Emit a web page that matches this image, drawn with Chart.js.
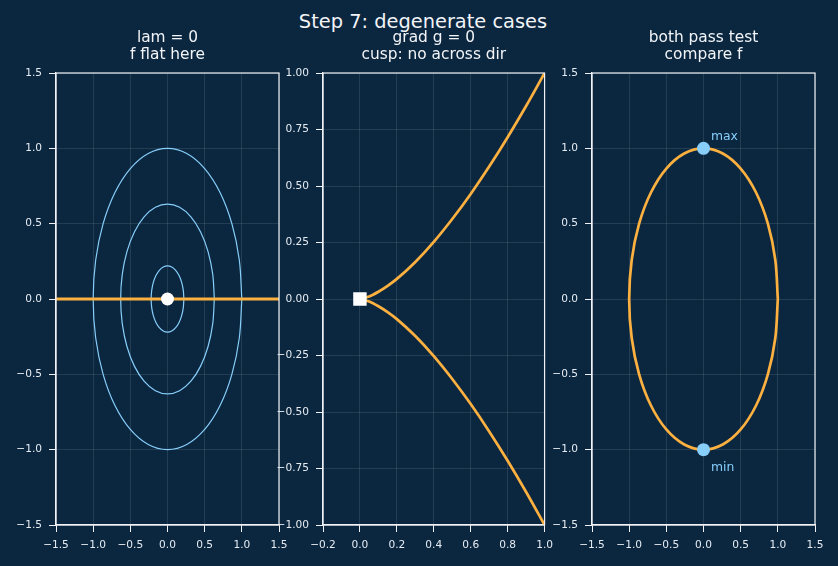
<!DOCTYPE html>
<html>
<head>
<meta charset="utf-8">
<script src="https://cdn.jsdelivr.net/npm/chart.js@4.4.1/dist/chart.umd.min.js"></script>
<style>
  html, body { margin: 0; padding: 0; background: #0b2740; width: 838px; height: 566px; overflow: hidden; }
  #title { position: absolute; left: 4px; top: 10px; width: 838px; text-align: center;
           font: 19.4px 'DejaVu Sans', sans-serif; line-height: 24px; color: #f2f4f7; }
  canvas { position: absolute; top: 0; }
</style>
</head>
<body>
<div id="title">Step 7: degenerate cases</div>
<canvas id="c1" width="300" height="566" style="left:0"></canvas>
<canvas id="c2" width="290" height="566" style="left:270px"></canvas>
<canvas id="c3" width="298" height="566" style="left:540px"></canvas>
<script>
// ── Data ──
// unit circle outline (15° steps), reused for the level curves and the constraint in panel 3
const unitCircleX = [1, 0.966, 0.866, 0.707, 0.5, 0.259, 0, -0.259, -0.5, -0.707, -0.866, -0.966, -1,
                     -0.966, -0.866, -0.707, -0.5, -0.259, 0, 0.259, 0.5, 0.707, 0.866, 0.966, 1];
const unitCircleY = [0, 0.259, 0.5, 0.707, 0.866, 0.966, 1, 0.966, 0.866, 0.707, 0.5, 0.259, 0,
                     -0.259, -0.5, -0.707, -0.866, -0.966, -1, -0.966, -0.866, -0.707, -0.5, -0.259, 0];

// panel 1: level curves of f and the flat constraint line
const contourRadii = [0.22, 0.63, 1.0];
const flatLineX = [-1.5, 1.5];
const flatLineY = [0, 0];
const flatPtX = [0];
const flatPtY = [0];

// panel 2: cusp y^2 = x^3
const cuspX = [0, 0.05, 0.1, 0.15, 0.2, 0.3, 0.4, 0.5, 0.6, 0.7, 0.8, 0.9, 1.0];
const cuspUpperY = [0, 0.011, 0.032, 0.058, 0.089, 0.164, 0.253, 0.354, 0.465, 0.586, 0.716, 0.854, 1.0];
const cuspLowerY = [0, -0.011, -0.032, -0.058, -0.089, -0.164, -0.253, -0.354, -0.465, -0.586, -0.716, -0.854, -1.0];
const cuspPtX = [0];
const cuspPtY = [0];

// panel 3: candidates on the circle
const extremaX = [0, 0];
const extremaY = [1, -1];
const extremaLabels = ['max', 'min'];
const labelX = [0.1, 0.1];
const labelY = [1.08, -1.12];

// tick labels
const ticksWide = [-1.5, -1.0, -0.5, 0, 0.5, 1.0, 1.5];
const cuspXTicks = [-0.2, 0, 0.2, 0.4, 0.6, 0.8, 1.0];
const cuspYTicks = [-1.0, -0.75, -0.5, -0.25, 0, 0.25, 0.5, 0.75, 1.0];

// ── Style ──
const FONT = "'DejaVu Sans', sans-serif";
const ORANGE = '#fbb040';
const BLUE = '#87cefa';
const AXIS = '#f0f2f5';
const TEXT = '#e6ebf0';
const GRID = 'rgba(255,255,255,0.10)';

const pts = (xs, ys) => xs.map((x, i) => ({ x: x, y: ys[i] }));
const fmt = d => v => v.toFixed(d).replace('-', '\u2212');

const frame = {
    id: 'frame',
    afterDatasetsDraw(chart) {
        const a = chart.chartArea, ctx = chart.ctx;
        ctx.save();
        ctx.strokeStyle = AXIS; ctx.lineWidth = 1.2;
        ctx.strokeRect(a.left, a.top, a.right - a.left, a.bottom - a.top);
        ctx.restore();
    }
};

const notes = {
    id: 'notes',
    afterDatasetsDraw(chart) {
        if (!chart.options.plugins.notes) return;
        const ctx = chart.ctx, sx = chart.scales.x, sy = chart.scales.y;
        ctx.save();
        ctx.fillStyle = BLUE; ctx.font = '12.4px ' + FONT;
        ctx.textAlign = 'left'; ctx.textBaseline = 'middle';
        extremaLabels.forEach((t, i) => ctx.fillText(t, sx.getPixelForValue(labelX[i]), sy.getPixelForValue(labelY[i])));
        ctx.restore();
    }
};

function axis(min, max, ticks, decimals, fit) {
    return {
        type: 'linear', min: min, max: max,
        afterBuildTicks: s => { s.ticks = ticks.map(v => ({ value: v })); },
        afterFit: fit,
        ticks: { callback: fmt(decimals), color: TEXT, font: { family: FONT, size: 10.6 }, padding: 7, autoSkip: false, maxRotation: 0 },
        grid: { color: GRID, tickColor: AXIS, tickLength: 7, tickWidth: 1 },
        border: { color: AXIS, width: 1.2 }
    };
}

function makePanel(id, title, datasets, xAx, yAx, padRight, withNotes) {
    return new Chart(document.getElementById(id), {
        type: 'scatter',
        data: { datasets: datasets },
        options: {
            responsive: false, animation: false, devicePixelRatio: 1,
            layout: { padding: { left: 0, right: padRight, top: 0, bottom: 0 } },
            plugins: {
                legend: { display: false }, tooltip: { enabled: false },
                notes: withNotes,
                title: { display: true, text: title, color: '#f2f4f7', fullSize: false,
                         font: { family: FONT, size: 15.4, weight: 'normal', lineHeight: 1.104 },
                         padding: { top: 29.5, bottom: 9.5 } }
            },
            scales: { x: xAx, y: yAx }
        },
        plugins: [frame, notes]
    });
}

const lineSet = (data, color, width, order, tension) => ({
    data: data, showLine: true, borderColor: color, borderWidth: width,
    pointRadius: 0, tension: tension, order: order
});
const dotSet = (data, color, radius, style, order) => ({
    data: data, showLine: false, pointRadius: radius, pointStyle: style,
    pointBackgroundColor: color, pointBorderWidth: 0, order: order
});

// ── Panel 1 ──
const contourSets = contourRadii.map(r =>
    lineSet(pts(unitCircleX.map(v => v * r), unitCircleY.map(v => v * r)), BLUE, 1.2, 3, 0.33));
makePanel('c1', ['lam = 0', 'f flat here'],
    [dotSet(pts(flatPtX, flatPtY), '#ffffff', 6.5, 'circle', 0),
     lineSet(pts(flatLineX, flatLineY), ORANGE, 3, 1, 0)].concat(contourSets),
    axis(-1.5, 1.5, ticksWide, 1, s => { s.height = 41; }),
    axis(-1.5, 1.5, ticksWide, 1, s => { s.width = 56; }),
    21, false);

// ── Panel 2 ──
makePanel('c2', ['grad g = 0', 'cusp: no across dir'],
    [dotSet(pts(cuspPtX, cuspPtY), '#ffffff', 9.5, 'rect', 0),
     Object.assign(lineSet(pts(cuspX, cuspUpperY), ORANGE, 2.7, 1, 0.4), { cubicInterpolationMode: 'monotone' }),
     Object.assign(lineSet(pts(cuspX, cuspLowerY), ORANGE, 2.7, 1, 0.4), { cubicInterpolationMode: 'monotone' })],
    axis(-0.2, 1.0, cuspXTicks, 1, s => { s.height = 41; }),
    axis(-1.0, 1.0, cuspYTicks, 2, s => { s.width = 53; }),
    13, false);

// ── Panel 3 ──
makePanel('c3', ['both pass test', 'compare f'],
    [dotSet(pts(extremaX, extremaY), BLUE, 6.5, 'circle', 0),
     lineSet(pts(unitCircleX, unitCircleY), ORANGE, 2.7, 1, 0.33)],
    axis(-1.5, 1.5, ticksWide, 1, s => { s.height = 41; }),
    axis(-1.5, 1.5, ticksWide, 1, s => { s.width = 52; }),
    23, true);
</script>
</body>
</html>
